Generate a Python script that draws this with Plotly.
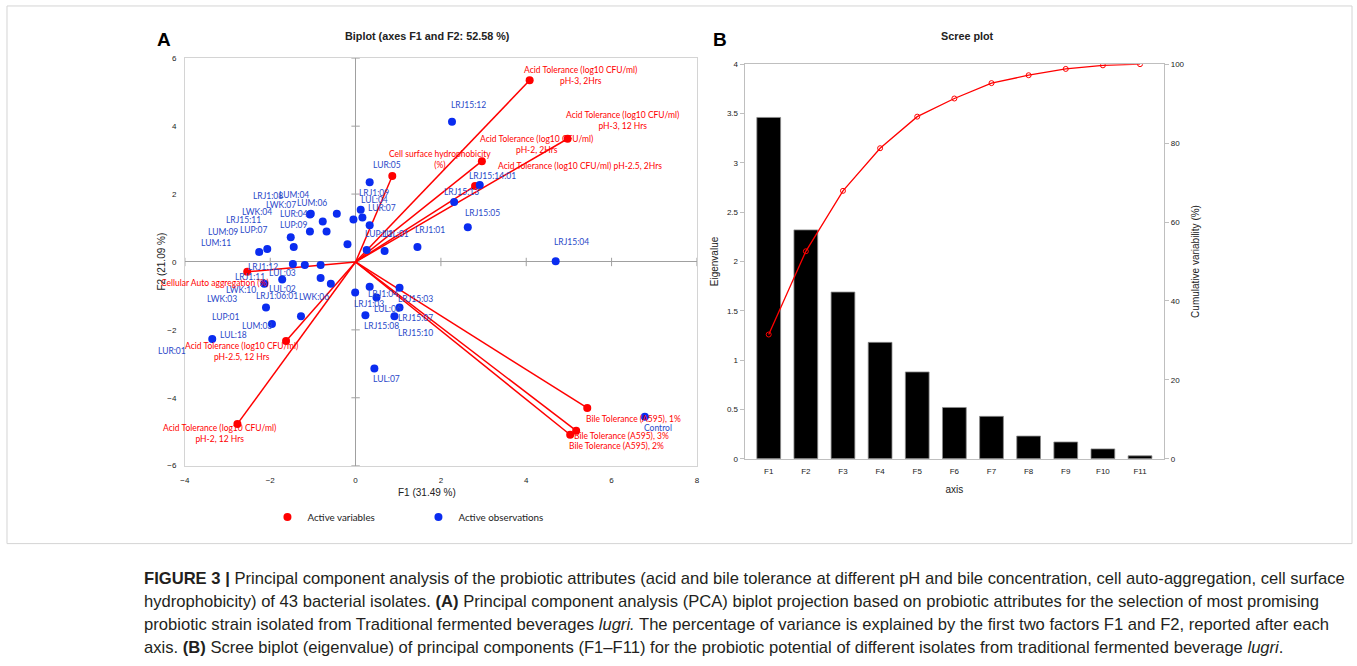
import plotly.graph_objects as go

# ---------------- DATA ----------------
# Biplot: active observations (F1, F2 scores)
obs_names = ["LUR:05", "LRJ1:09", "LUL:04", "LUR:07", "LUP:11", "LUL:01", "LRJ1:01", "LRJ15:05",
             "LRJ15:13", "LRJ15:14:01", "LRJ15:12", "LRJ15:04", "Control",
             "LRJ1:04", "LRJ1:03", "LRJ15:03", "LUL:06", "LRJ15:07", "LRJ15:08", "LRJ15:10", "LUL:07",
             "LUR:04", "LUM:04", "LUM:06", "LWK:07", "LRJ1:08", "LWK:04", "LUP:09", "LUP:07",
             "LUM:09", "LUM:11", "LRJ15:11", "LRJ1:12",
             "LUL:03", "LRJ1:06:01", "LUL:02", "LWK:10", "LRJ1:11", "LWK:03", "LWK:06", "LUP:01",
             "LUL:18", "LUM:03", "LUR:01"]
obs_f1 = [0.33, 0.12, 0.16, 0.33, 0.26, 0.68, 1.45, 2.63,
          2.31, 2.91, 2.26, 4.69, 6.78,
          0.33, -0.01, 1.03, 0.49, 1.03, 0.23, 0.91, 0.44,
          -1.05, -1.07, -0.44, -0.77, -1.07, -0.68, -1.52, -1.45,
          -2.07, -2.26, -0.05, -0.19,
          -1.47, -1.19, -0.82, -2.14, -1.72, -0.82, -0.58, -2.10,
          -1.28, -1.96, -3.36]
obs_f2 = [2.35, 1.54, 1.31, 1.08, 0.35, 0.32, 0.44, 1.02,
          1.77, 2.27, 4.13, 0.02, -4.56,
          -0.73, -0.90, -0.76, -1.05, -1.34, -1.57, -1.60, -3.14,
          1.42, 1.40, 1.42, 1.19, 0.90, 0.90, 0.73, 0.44,
          0.38, 0.29, 1.25, 0.52,
          -0.06, -0.09, -0.09, -0.64, -0.52, -0.47, -0.64, -1.34,
          -1.60, -1.83, -2.27]

# Biplot: active variables (loadings, scaled)
var_names = ["Acid Tolerance (log10 CFU/ml)<br>pH-3, 2Hrs",
             "Acid Tolerance (log10 CFU/ml)<br>pH-3, 12 Hrs",
             "Cell surface hydrophobicity<br>(%)",
             "Acid Tolerance (log10 CFU/ml)<br>pH-2, 2Hrs",
             "Acid Tolerance (log10 CFU/ml) pH-2.5, 2Hrs",
             "Cellular Auto aggregation (%)",
             "Acid Tolerance (log10 CFU/ml)<br>pH-2.5, 12 Hrs",
             "Acid Tolerance (log10 CFU/ml)<br>pH-2, 12 Hrs",
             "Bile Tolerance (A595), 1%",
             "Bile Tolerance (A595), 3%",
             "Bile Tolerance (A595), 2%"]
var_f1 = [4.08, 4.97, 0.86, 2.96, 2.80, -2.54, -1.63, -2.77, 5.43, 5.17, 5.03]
var_f2 = [5.35, 3.63, 2.53, 2.97, 2.24, -0.29, -2.33, -4.77, -4.30, -4.97, -5.09]

# Scree plot
factors = ["F1", "F2", "F3", "F4", "F5", "F6", "F7", "F8", "F9", "F10", "F11"]
eigenvalues = [3.46, 2.32, 1.69, 1.18, 0.88, 0.52, 0.43, 0.23, 0.17, 0.10, 0.03]
cumulative = [31.49, 52.58, 67.9, 78.7, 86.7, 91.3, 95.2, 97.2, 98.8, 99.7, 100.0]

x_ticks = [-4, -2, 0, 2, 4, 6, 8]
y_ticks = [-6, -4, -2, 0, 2, 4, 6]

# ---------------- STYLE (label offsets in pixels: dx right, dy down) ----------------
obs_label_offsets = [(17, -17), (13, -17), (12, -17), (12, -17), (12, -16), (11, -17), (13, -17), (15, -14),
                     (7, -10), (13, -9), (16, -17), (16, -19), (13, 11),
                     (13, 7), (14, 11), (16, 11), (11, 11), (16, 11), (16, 11), (21, 17), (12, 10),
                     (-17, 0), (-16, -19), (-25, -11), (-42, -17), (-42, -35), (-70, -19), (3, -12), (-40, -17),
                     (-44, -17), (-43, -9), (-110, 0), (-84, 23),
                     (-10, 9), (-28, 31), (-38, 24), (-23, 6), (-32, -3), (-99, 21), (-17, 13), (-40, 10),
                     (-67, 19), (-15, 2), (-40, 12)]
var_label_offsets = [(51, -5), (55, -18), (48, -17), (55, -17), (105, -20), (-32, 11),
                     (-45, 10), (-18, 10), (46, 11), (45, 5), (46, 11)]

W, H = 1357, 666
RED = "#ff0000"
BLUE = "#0a2cf0"
LBLUE = "#2a48c8"
LABEL_FONT = "Lato, Carlito, 'Liberation Sans', sans-serif"
AX_FONT = "'Liberation Sans', Arial, sans-serif"


def px_x(p):
    return p / W


def px_y(p):
    return 1 - p / H


fig = go.Figure()

# Small tick marks on the zero lines of the biplot
fig.add_trace(go.Scatter(x=[0] * len(y_ticks), y=y_ticks, mode="markers",
                         marker=dict(symbol="line-ew", size=6, line=dict(color="#a0a0a0", width=1)),
                         showlegend=False, hoverinfo="skip", xaxis="x", yaxis="y"))
fig.add_trace(go.Scatter(x=x_ticks, y=[0] * len(x_ticks), mode="markers",
                         marker=dict(symbol="line-ns", size=6, line=dict(color="#a0a0a0", width=1)),
                         showlegend=False, hoverinfo="skip", xaxis="x", yaxis="y"))

# Variable vectors from origin
lx, ly = [], []
for a, b in zip(var_f1, var_f2):
    lx += [0, a, None]
    ly += [0, b, None]
fig.add_trace(go.Scatter(x=lx, y=ly, mode="lines", line=dict(color=RED, width=1.5),
                         showlegend=False, hoverinfo="skip", xaxis="x", yaxis="y"))
fig.add_trace(go.Scatter(x=var_f1, y=var_f2, mode="markers", name="Active variables",
                         marker=dict(color=RED, size=8), xaxis="x", yaxis="y"))
fig.add_trace(go.Scatter(x=obs_f1, y=obs_f2, mode="markers", name="Active observations",
                         marker=dict(color=BLUE, size=8), xaxis="x", yaxis="y"))

# Scree plot
fig.add_trace(go.Bar(x=factors, y=eigenvalues, marker=dict(color="black", line=dict(color="#8c8c8c", width=0.8)),
                     showlegend=False, xaxis="x2", yaxis="y2"))
fig.add_trace(go.Scatter(x=factors, y=cumulative, mode="lines+markers",
                         line=dict(color=RED, width=1.3),
                         marker=dict(symbol="circle-open", size=5, color=RED, line=dict(width=1)),
                         showlegend=False, xaxis="x2", yaxis="y3"))

annotations = []
for name, a, b, (dx, dy) in zip(obs_names, obs_f1, obs_f2, obs_label_offsets):
    annotations.append(dict(x=a, y=b, xref="x", yref="y", text=name, showarrow=False,
                            xanchor="center", yanchor="middle",
                            xshift=dx, yshift=-dy, font=dict(family=LABEL_FONT, size=8.5, color=LBLUE)))
for name, a, b, (dx, dy) in zip(var_names, var_f1, var_f2, var_label_offsets):
    annotations.append(dict(x=a, y=b, xref="x", yref="y", text=name, showarrow=False,
                            xanchor="center", yanchor="middle",
                            xshift=dx, yshift=-dy, align="center",
                            font=dict(family=LABEL_FONT, size=8.5, color=RED)))

title_font = dict(family=AX_FONT, size=10, color="#222")


def paper_text(x, y, text, font, angle=0):
    return dict(x=px_x(x), y=px_y(y), xref="paper", yref="paper", text=text, showarrow=False,
                xanchor="center", yanchor="middle", textangle=angle, font=font)


# Titles, panel letters, biplot axis titles
annotations += [
    paper_text(425, 32, "<b>Biplot (axes F1 and F2: 52.58 %)</b>", dict(family=AX_FONT, size=10.8, color="#222")),
    paper_text(968, 32, "<b>Scree plot</b>", dict(family=AX_FONT, size=10.8, color="#222")),
    paper_text(160, 36, "<b>A</b>", dict(family=AX_FONT, size=19, color="black")),
    paper_text(719, 36, "<b>B</b>", dict(family=AX_FONT, size=19, color="black")),
    paper_text(425, 495, "F1 (31.49 %)", title_font),
    paper_text(157, 261, "F2 (21.09 %)", title_font, angle=-90),
]

# Caption
cap_font = dict(family=AX_FONT, size=16.6, color="#231f20")
caption_lines = [
    "<b>FIGURE 3 |</b> Principal component analysis of the probiotic attributes (acid and bile tolerance at different pH and bile concentration, cell auto-aggregation, cell surface",
    "hydrophobicity) of 43 bacterial isolates. <b>(A)</b> Principal component analysis (PCA) biplot projection based on probiotic attributes for the selection of most promising",
    "probiotic strain isolated from Traditional fermented beverages <i>lugri.</i> The percentage of variance is explained by the first two factors F1 and F2, reported after each",
    "axis. <b>(B)</b> Scree biplot (eigenvalue) of principal components (F1–F11) for the probiotic potential of different isolates from traditional fermented beverage <i>lugri</i>.",
]
for i, line in enumerate(caption_lines):
    annotations.append(dict(x=px_x(138), y=px_y(582 + 23.3 * i), xref="paper", yref="paper",
                            xanchor="left", yanchor="middle", text=line, showarrow=False, font=cap_font))

tick_font = dict(family=AX_FONT, size=8, color="#222")

fig.update_layout(
    width=W, height=H, autosize=False,
    margin=dict(l=0, r=0, t=0, b=0),
    paper_bgcolor="white", plot_bgcolor="white",
    annotations=annotations,
    bargap=0.36,
    shapes=[dict(type="rect", xref="paper", yref="paper", x0=px_x(2), x1=px_x(1355), y0=px_y(547), y1=px_y(2),
                 line=dict(color="#d4d4d4", width=1))],
    legend=dict(orientation="h", x=px_x(264), y=px_y(520), xanchor="left", yanchor="middle",
                font=dict(family=LABEL_FONT, size=9.8, color="#222"), entrywidth=106, entrywidthmode="pixels",
                itemwidth=30),
    xaxis=dict(domain=[px_x(181), px_x(696)], range=[-4, 8], tickvals=x_ticks, showgrid=False,
               zeroline=True, zerolinecolor="#a0a0a0", zerolinewidth=1,
               showline=True, linecolor="#d4d4d4", mirror=True, ticks="", tickfont=tick_font,
               ticklabelstandoff=7, anchor="y"),
    yaxis=dict(domain=[px_y(468), px_y(55)], range=[-6, 6], tickvals=y_ticks, showgrid=False,
               zeroline=True, zerolinecolor="#a0a0a0", zerolinewidth=1,
               showline=True, linecolor="#d4d4d4", mirror=True, ticks="", tickfont=tick_font,
               ticklabelstandoff=6, anchor="x"),
    xaxis2=dict(domain=[px_x(744), px_x(1166)], type="category", showgrid=False, showline=True,
                linecolor="#bfbfbf", mirror=True, ticks="", tickfont=tick_font, ticklabelstandoff=5,
                title=dict(text="axis", font=title_font, standoff=10), anchor="y2"),
    yaxis2=dict(domain=[px_y(461), px_y(61)], range=[0, 4], dtick=0.5, showgrid=False, showline=True,
                linecolor="#bfbfbf", ticks="outside", ticklen=4, tickcolor="#bfbfbf", tickfont=tick_font,
                zeroline=False,
                title=dict(text="Eigenvalue", font=title_font, standoff=6), anchor="x2"),
    yaxis3=dict(domain=[px_y(461), px_y(61)], range=[0, 100], dtick=20, overlaying="y2", side="right",
                showgrid=False, showline=True, linecolor="#bfbfbf", ticks="outside", ticklen=4,
                tickcolor="#bfbfbf", tickfont=tick_font, zeroline=False,
                title=dict(text="Cumulative variability (%)", font=title_font, standoff=8), anchor="x2"),
)

fig.write_html("out.html", config={"displayModeBar": False},
               post_script="document.body.style.margin='0';document.body.style.overflow='hidden';")
